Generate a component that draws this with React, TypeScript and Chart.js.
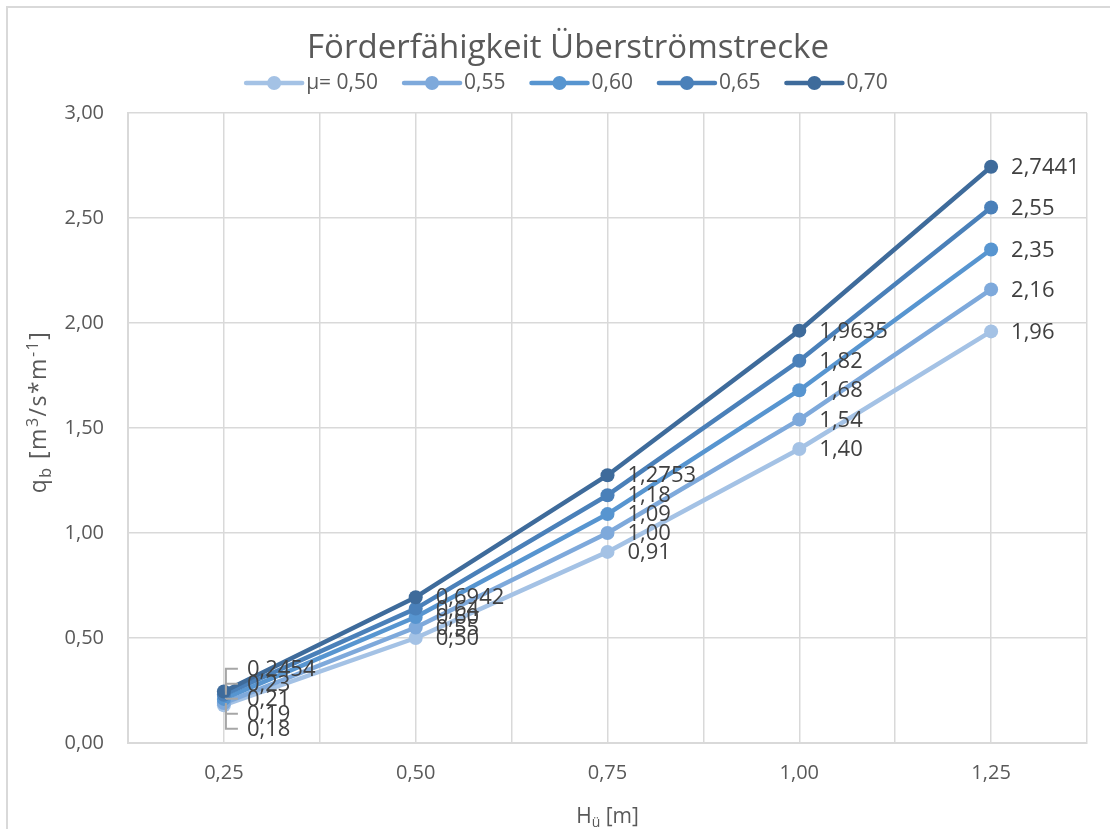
import React, { useEffect, useRef } from 'react';
import { Chart, registerables } from 'chart.js';

Chart.register(...registerables);

// ---- data ----
const H_VALUES = [0.25, 0.5, 0.75, 1.0, 1.25];
const MU_050 = [0.18, 0.5, 0.91, 1.4, 1.96];
const MU_055 = [0.19, 0.55, 1.0, 1.54, 2.16];
const MU_060 = [0.21, 0.6, 1.09, 1.68, 2.35];
const MU_065 = [0.23, 0.64, 1.18, 1.82, 2.55];
const MU_070 = [0.2454, 0.6942, 1.2753, 1.9635, 2.7441];
const SERIES_NAMES = ['μ= 0,50', '0,55', '0,60', '0,65', '0,70'];
const LABEL_DECIMALS = [2, 2, 2, 2, 4];
const X_TICK_LABELS = ['0,25', '0,50', '0,75', '1,00', '1,25'];
const Y_MIN = 0;
const Y_MAX = 3;
const Y_STEP = 0.5;
const TITLE = 'Förderfähigkeit Überströmstrecke';

const SERIES = [MU_050, MU_055, MU_060, MU_065, MU_070];
const COLORS = ['#a4c2e5', '#7ea9db', '#5795d0', '#4a80b9', '#3e6b9b'];
const FONT = "'Open Sans', sans-serif";
const GRID = '#d9d9d9';

const fmt = (v: number, d: number) => v.toFixed(d).replace('.', ',');

type Seg = { t: string; mode?: 'sub' | 'sup' };

function drawRich(
  ctx: CanvasRenderingContext2D,
  segs: Seg[],
  cx: number,
  cy: number,
  size: number,
  rot: number,
  color: string,
  spacing: number,
  ratio: number
) {
  ctx.save();
  ctx.translate(cx, cy);
  ctx.rotate(rot);
  ctx.fillStyle = color;
  ctx.textBaseline = 'alphabetic';
  ctx.textAlign = 'left';
  (ctx as any).letterSpacing = `${spacing}px`;
  const small = Math.round(size * ratio);
  let total = 0;
  const widths = segs.map((s) => {
    ctx.font = `${s.mode ? small : size}px ${FONT}`;
    const w = ctx.measureText(s.t).width;
    total += w;
    return w;
  });
  let x = -total / 2;
  const base = size * 0.36;
  segs.forEach((s, i) => {
    ctx.font = `${s.mode ? small : size}px ${FONT}`;
    let y = base;
    if (s.mode === 'sub') y = base + size * 0.22;
    if (s.mode === 'sup') y = base - size * 0.36;
    ctx.fillText(s.t, x, y);
    x += widths[i];
  });
  ctx.restore();
}

const decorPlugin = {
  id: 'decor',
  beforeDraw(chart: any) {
    const ctx = chart.ctx as CanvasRenderingContext2D;
    ctx.save();
    ctx.fillStyle = '#ffffff';
    ctx.fillRect(0, 0, chart.width, chart.height);
    ctx.strokeStyle = GRID;
    ctx.lineWidth = 2;
    ctx.strokeRect(7, 7, chart.width + 20, chart.height + 20);
    ctx.restore();
  },
  afterDatasetsDraw(chart: any) {
    const ctx = chart.ctx as CanvasRenderingContext2D;
    const xs = chart.scales.x;
    const ys = chart.scales.y;
    ctx.save();
    ctx.font = `22px ${FONT}`;
    ctx.textBaseline = 'middle';
    ctx.textAlign = 'left';
    H_VALUES.forEach((h, j) => {
      const px = xs.getPixelForValue(h);
      const items = SERIES.map((vals, i) => ({ i, py: ys.getPixelForValue(vals[j]), text: fmt(vals[j], LABEL_DECIMALS[i]) }));
      if (j === 0) {
        // crowded first category: labels spread apart with leader lines
        const sorted = [...items].sort((a, b) => a.py - b.py);
        const mean = sorted.reduce((s, a) => s + a.py, 0) / sorted.length;
        const gap = 15;
        ctx.strokeStyle = '#a6a6a6';
        ctx.lineWidth = 2;
        sorted.forEach((it: any, k) => {
          const ly = mean + (k - (sorted.length - 1) / 2) * gap;
          ctx.beginPath();
          ctx.moveTo(px + 14, ly);
          ctx.lineTo(px + 2, ly);
          ctx.lineTo(px + 2, it.py);
          ctx.stroke();
          it.ly = ly;
        });
        ctx.fillStyle = '#404040';
        sorted.forEach((it: any) => ctx.fillText(it.text, px + 23, it.ly + 1));
      } else {
        ctx.fillStyle = '#404040';
        items.forEach((it) => ctx.fillText(it.text, px + 20, it.py + 1));
      }
    });
    ctx.restore();
  },
  afterDraw(chart: any) {
    const ctx = chart.ctx as CanvasRenderingContext2D;
    const ca = chart.chartArea;
    ctx.save();
    // title
    ctx.fillStyle = '#595959';
    ctx.font = `33px ${FONT}`;
    ctx.textAlign = 'center';
    ctx.textBaseline = 'middle';
    ctx.fillText(TITLE, 568, 49);
    // legend
    ctx.font = `21px ${FONT}`;
    const symW = 60;
    const textGap = 2;
    const itemGap = 24;
    const tw = SERIES_NAMES.map((n) => ctx.measureText(n).width);
    const total = tw.reduce((s, w) => s + w + symW + textGap, 0) + itemGap * (SERIES_NAMES.length - 1);
    let x = 566 - total / 2;
    const ly = 83;
    SERIES_NAMES.forEach((n, i) => {
      ctx.strokeStyle = COLORS[i];
      ctx.lineWidth = 4.5;
      ctx.lineCap = 'round';
      ctx.beginPath();
      ctx.moveTo(x + 2, ly);
      ctx.lineTo(x + symW - 2, ly);
      ctx.stroke();
      ctx.fillStyle = COLORS[i];
      ctx.beginPath();
      ctx.arc(x + symW / 2, ly, 7, 0, Math.PI * 2);
      ctx.fill();
      ctx.fillStyle = '#595959';
      ctx.textAlign = 'left';
      ctx.fillText(n, x + symW + textGap, ly);
      x += symW + textGap + tw[i] + itemGap;
    });
    // axis titles
    drawRich(
      ctx,
      [{ t: 'q' }, { t: 'b', mode: 'sub' }, { t: ' [m' }, { t: '3', mode: 'sup' }, { t: '/s*m' }, { t: '-1', mode: 'sup' }, { t: ']' }],
      38,
      412,
      23,
      -Math.PI / 2,
      '#595959',
      1.5,
      0.7
    );
    drawRich(ctx, [{ t: 'H' }, { t: 'ü', mode: 'sub' }, { t: ' [m]' }], (ca.left + ca.right) / 2, 815, 21, 0, '#595959', 0, 0.65);
    ctx.restore();
  },
};

export default function App() {
  const ref = useRef<HTMLCanvasElement | null>(null);
  useEffect(() => {
    document.body.style.margin = '0';
    const canvas = ref.current;
    if (!canvas) return;
    const chart = new Chart(canvas, {
      type: 'line',
      data: {
        datasets: SERIES.map((vals, i) => ({
          label: SERIES_NAMES[i],
          data: H_VALUES.map((h, j) => ({ x: h, y: vals[j] })),
          borderColor: COLORS[i],
          backgroundColor: COLORS[i],
          pointBackgroundColor: COLORS[i],
          pointBorderColor: COLORS[i],
          borderWidth: 4.5,
          pointRadius: 7,
          pointHoverRadius: 7,
          pointBorderWidth: 0,
          borderJoinStyle: 'round',
          borderCapStyle: 'round',
          tension: 0,
          order: SERIES.length - 1 - i,
        })),
      },
      options: {
        responsive: false,
        animation: false,
        devicePixelRatio: 1,
        events: [],
        layout: { padding: { left: 0, top: 113, right: 23, bottom: 0 } },
        plugins: { legend: { display: false }, title: { display: false }, tooltip: { enabled: false } },
        scales: {
          x: {
            type: 'linear',
            min: 0.125,
            max: 1.375,
            afterFit: (s: any) => {
              s.height = 86;
            },
            ticks: {
              stepSize: 0.125,
              autoSkip: false,
              maxRotation: 0,
              padding: 18,
              color: '#595959',
              font: { family: FONT, size: 20 },
              callback: (v: any) => {
                const k = Math.round(Number(v) / 0.125);
                if (k % 2 === 0 && k >= 2 && k <= 10) return X_TICK_LABELS[k / 2 - 1];
                return '';
              },
            },
            grid: { color: GRID, lineWidth: 1.5, drawTicks: false },
            border: { color: GRID, width: 2 },
          },
          y: {
            min: Y_MIN,
            max: Y_MAX,
            afterFit: (s: any) => {
              s.width = 128;
            },
            ticks: {
              stepSize: Y_STEP,
              padding: 24,
              color: '#595959',
              font: { family: FONT, size: 20 },
              callback: (v: any) => fmt(Number(v), 2),
            },
            grid: { color: GRID, lineWidth: 1.5, drawTicks: false },
            border: { color: GRID, width: 2 },
          },
        },
      },
      plugins: [decorPlugin],
    } as any);
    return () => chart.destroy();
  }, []);
  return <canvas ref={ref} width={1110} height={829} style={{ display: 'block' }} />;
}
